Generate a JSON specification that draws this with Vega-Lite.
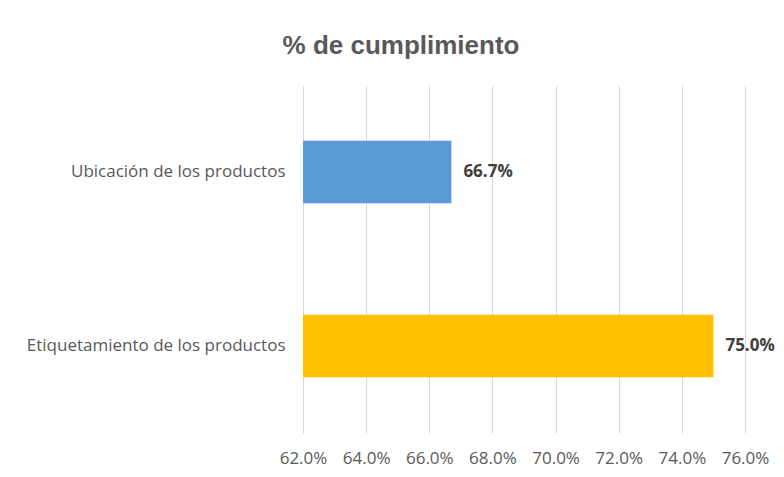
{
  "$schema": "https://vega.github.io/schema/vega-lite/v6.json",
  "autosize": "none",
  "width": 442,
  "height": 348,
  "padding": {"left": 303, "top": 85, "right": 39, "bottom": 44},
  "background": "white",
  "title": {
    "text": "% de cumplimiento",
    "font": "Liberation Sans",
    "fontSize": 26,
    "fontWeight": "bold",
    "color": "#595959",
    "anchor": "middle",
    "dx": -123,
    "offset": 26
  },
  "data": {
    "values": [
      {"categoria": "Ubicación de los productos", "valor": 0.667, "base": 0.62},
      {"categoria": "Etiquetamiento de los productos", "valor": 0.75, "base": 0.62}
    ]
  },
  "encoding": {
    "y": {
      "field": "categoria",
      "type": "nominal",
      "sort": ["Ubicación de los productos", "Etiquetamiento de los productos"],
      "scale": {"paddingInner": 0.64, "paddingOuter": 0.32},
      "axis": {
        "title": null,
        "domain": false,
        "ticks": false,
        "labelPadding": 18,
        "labelFont": "Open Sans",
        "labelFontSize": 17,
        "labelColor": "#595959",
        "labelLimit": 400
      }
    }
  },
  "layer": [
    {
      "mark": {"type": "bar"},
      "encoding": {
        "x": {
          "field": "valor",
          "type": "quantitative",
          "scale": {"domain": [0.62, 0.76], "zero": false, "nice": false},
          "axis": {
            "title": null,
            "values": [0.62, 0.64, 0.66, 0.68, 0.70, 0.72, 0.74, 0.76],
            "format": ".1%",
            "domain": false,
            "ticks": false,
            "grid": true,
            "gridColor": "#d9d9d9",
            "gridWidth": 1,
            "labelPadding": 17,
            "labelFlush": false,
            "labelOverlap": false,
            "labelFont": "Open Sans",
            "labelFontSize": 17,
            "labelColor": "#595959"
          }
        },
        "x2": {"field": "base"},
        "color": {
          "field": "categoria",
          "type": "nominal",
          "scale": {
            "domain": ["Ubicación de los productos", "Etiquetamiento de los productos"],
            "range": ["#5B9BD5", "#FFC000"]
          },
          "legend": null
        }
      }
    },
    {
      "mark": {
        "type": "text",
        "align": "left",
        "dx": 12,
        "font": "Open Sans",
        "fontSize": 17,
        "fontWeight": "bold",
        "color": "#404040"
      },
      "encoding": {
        "x": {"field": "valor", "type": "quantitative"},
        "text": {"field": "valor", "type": "quantitative", "format": ".1%"}
      }
    }
  ],
  "config": {
    "view": {"stroke": null}
  }
}
